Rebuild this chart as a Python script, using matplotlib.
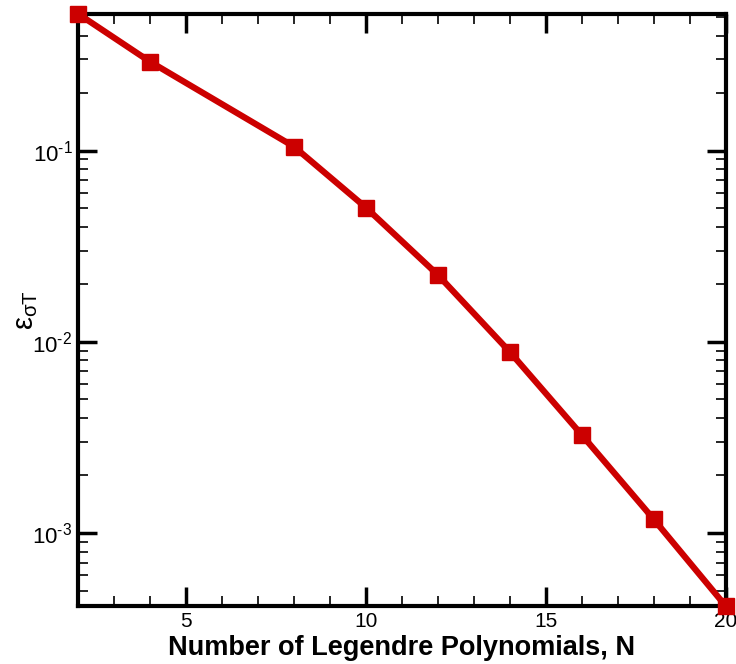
import numpy as np
import matplotlib.pyplot as plt
from matplotlib.ticker import LogLocator, MultipleLocator, FuncFormatter

plt.rcParams['font.family'] = ['Liberation Sans', 'DejaVu Sans']
plt.rcParams['mathtext.fontset'] = 'custom'
plt.rcParams['mathtext.rm'] = 'Liberation Sans'
plt.rcParams['mathtext.it'] = 'Liberation Sans'
plt.rcParams['mathtext.bf'] = 'Liberation Sans:bold'
plt.rcParams['mathtext.default'] = 'regular'
plt.rcParams['axes.unicode_minus'] = False

# Error vs. number of Legendre polynomials
n_poly = [2, 4, 8, 10, 12, 14, 16, 18, 20]
err = [0.52, 0.292, 0.105, 0.0504, 0.0224, 0.00886, 0.00326, 0.00118, 0.000415]

fig = plt.figure(figsize=(7.36, 6.64), dpi=100)
ax = fig.add_axes([0.106, 0.0873, 0.88, 0.892])

ax.plot(n_poly, err, color='#cc0000', lw=4.5, marker='s', ms=12,
        clip_on=False, zorder=5)

ax.set_yscale('log')
ax.set_xlim(2, 20)
ax.set_ylim(4.15e-4, 0.52)

ax.xaxis.set_major_locator(MultipleLocator(5))
ax.xaxis.set_minor_locator(MultipleLocator(1))
ax.yaxis.set_major_locator(LogLocator(base=10))
ax.yaxis.set_minor_locator(LogLocator(base=10, subs=np.arange(2, 10)))


def pow10(v, pos):
    e = int(round(np.log10(v)))
    # plain hyphen in the exponent
    return r'$10^{\text{%d}}$' % e


ax.yaxis.set_major_formatter(FuncFormatter(pow10))

ax.tick_params(which='both', direction='in', top=True, right=True, labelsize=15)
ax.tick_params(axis='y', labelsize=16)
ax.tick_params(which='major', length=14, width=2.5, pad=4)
ax.tick_params(which='minor', length=7, width=1.2)
for s in ax.spines.values():
    s.set_linewidth(3)

ax.set_xlabel('Number of Legendre Polynomials, N', fontsize=19.5, fontweight='bold', labelpad=3)
ax.set_ylabel(r'$\epsilon_{\sigma T}$', fontsize=21)
ax.yaxis.set_label_coords(-0.058, 0.5)

plt.savefig('out.png', dpi=100)
